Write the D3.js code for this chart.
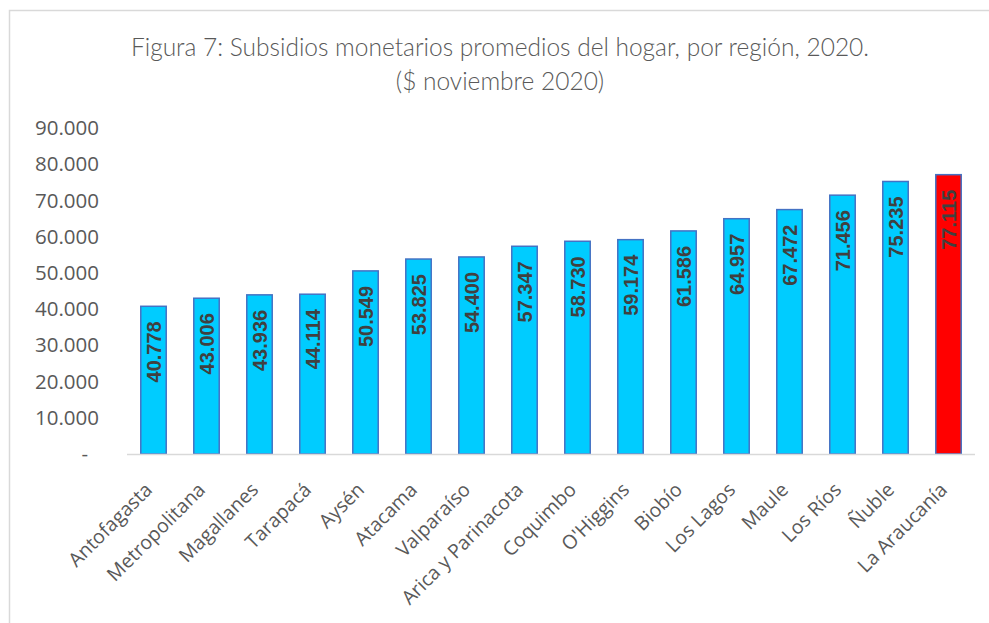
<!DOCTYPE html>
<html>
<head>
<meta charset="utf-8">
<script src="https://cdn.jsdelivr.net/npm/d3@7"></script>
<style>
  body { margin: 0; background: white; }
</style>
</head>
<body>
<div id="chart"></div>
<script>
const width = 989
const height = 623

// values
const regions = ["Antofagasta", "Metropolitana", "Magallanes", "Tarapacá", "Aysén", "Atacama",
  "Valparaíso", "Arica y Parinacota", "Coquimbo", "O'Higgins", "Biobío", "Los Lagos",
  "Maule", "Los Ríos", "Ñuble", "La Araucanía"];
const subsidios = [40778, 43006, 43936, 44114, 50549, 53825, 54400, 57347, 58730, 59174,
  61586, 64957, 67472, 71456, 75235, 77115];
const highlighted = "La Araucanía";
const yTicks = [0, 10000, 20000, 30000, 40000, 50000, 60000, 70000, 80000, 90000];

const fmt = v => v === 0 ? "-" : d3.format(",")(v).replace(/,/g, ".");

const svg = d3.select("#chart")
  .append("svg")
  .attr("width", width)
  .attr("height", height)

// chart frame
svg.append("rect")
  .attr("x", 9.5)
  .attr("y", 10.5)
  .attr("width", 990)
  .attr("height", 640)
  .attr("fill", "none")
  .attr("stroke", "#d9d9d9")
  .attr("stroke-width", 1.5)

svg.append("text")
  .attr("x", 500)
  .attr("y", 56)
  .attr("text-anchor", "middle")
  .attr("font-family", "Lato, sans-serif")
  .attr("font-size", 24.5)
  .attr("font-weight", 300)
  .attr("fill", "#595959")
  .text("Figura 7: Subsidios monetarios promedios del hogar, por región, 2020.")
svg.append("text")
  .attr("x", 500)
  .attr("y", 90)
  .attr("text-anchor", "middle")
  .attr("font-family", "Lato, sans-serif")
  .attr("font-size", 24.5)
  .attr("font-weight", 300)
  .attr("fill", "#595959")
  .text("($ noviembre 2020)")

const x = d3.scaleBand()
  .domain(regions)
  .range([127, 975])
  .paddingInner(0.52)
  .paddingOuter(0.26)

const y = d3.scaleLinear()
  .domain([0, 90000])
  .range([454, 128])

// y axis labels, no line
const yAxis = svg.append("g")
  .attr("transform", "translate(99,0)")
  .call(d3.axisLeft(y).tickValues(yTicks).tickFormat(fmt).tickSize(0).tickPadding(0))
yAxis.select(".domain").remove()
yAxis.selectAll("text")
  .attr("font-family", "Open Sans, sans-serif")
  .attr("font-size", 20.5)
  .attr("fill", "#595959")
yAxis.selectAll("text").filter(d => d === 0).attr("dx", -11)

const data = regions.map((r, i) => ({ region: r, value: subsidios[i] }));

svg.selectAll("rect.bar")
  .data(data)
  .enter()
  .append("rect")
  .attr("class", "bar")
  .attr("x", d => x(d.region))
  .attr("y", d => y(d.value))
  .attr("width", x.bandwidth())
  .attr("height", d => y(0) - y(d.value))
  .attr("fill", d => d.region === highlighted ? "#ff0000" : "#00ccff")
  .attr("stroke", "#4472c4")
  .attr("stroke-width", 1.5)

// baseline
svg.append("line")
  .attr("x1", 127)
  .attr("x2", 975)
  .attr("y1", y(0) + 0.5)
  .attr("y2", y(0) + 0.5)
  .attr("stroke", "#d9d9d9")
  .attr("stroke-width", 1.5)

// value labels, rotated, inside end
svg.selectAll("text.val")
  .data(data)
  .enter()
  .append("text")
  .attr("class", "val")
  .attr("transform", d => `translate(${x(d.region) + x.bandwidth() / 2 + 7},${y(d.value) + 15}) rotate(-90)`)
  .attr("text-anchor", "end")
  .attr("font-family", "Liberation Sans, Arial, sans-serif")
  .attr("font-weight", "bold")
  .attr("font-size", 20)
  .attr("fill", "#404040")
  .text(d => fmt(d.value))

// category labels
const xAxis = svg.append("g")
  .attr("transform", `translate(0,${y(0)})`)
  .call(d3.axisBottom(x).tickSize(0).tickPadding(0))
xAxis.select(".domain").remove()
xAxis.selectAll("text")
  .attr("font-family", "Open Sans, sans-serif")
  .attr("font-size", 19.5)
  .attr("fill", "#595959")
  .attr("text-anchor", "end")
  .attr("dy", 0)
  .attr("transform", "translate(0,37) rotate(-45)")
</script>
</body>
</html>
